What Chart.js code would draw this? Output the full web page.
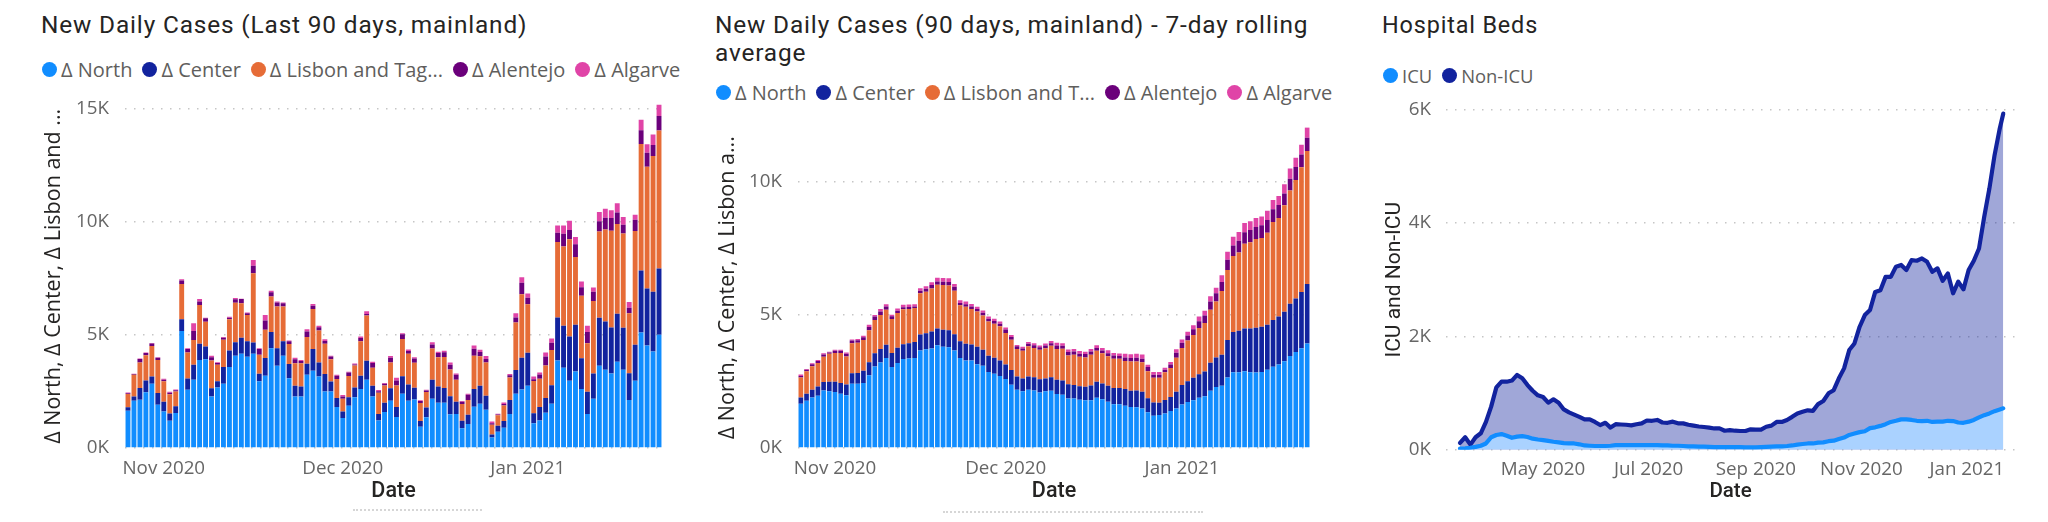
<!DOCTYPE html>
<html>
<head>
<meta charset="utf-8">
<title>Covid dashboard</title>
<script src="https://cdn.jsdelivr.net/npm/chart.js@4"></script>
<style>
  body { margin: 0; width: 2048px; height: 522px; background: #fff; overflow: hidden; position: relative; }
  canvas { position: absolute; top: 0; }
  .title { position: absolute; font: 400 24.4px Roboto, sans-serif; line-height: 28px; color: #252423; letter-spacing: 0.85px; }
  .legend { position: absolute; display: flex; font: 20px "Open Sans", sans-serif; color: #605E5C; white-space: nowrap; }
  .legend span { display: flex; align-items: center; margin-right: 10px; }
  .legend i { width: 15px; height: 15px; border-radius: 50%; margin-right: 4px; }
  .dots { position: absolute; height: 0; border-bottom: 2px dotted #d6d6d6; }
</style>
</head>
<body>
<div class="title" style="left:41px;top:11px">New Daily Cases (Last 90 days, mainland)</div>
<div class="title" style="left:715px;top:11px;width:620px">New Daily Cases (90 days, mainland) - 7-day rolling average</div>
<div class="title" style="left:1382px;top:11px;font-size:23.4px">Hospital Beds</div>
<div class="legend" id="legend1" style="left:42px;top:56px"></div>
<div class="legend" id="legend2" style="left:716px;top:79px"></div>
<div class="legend" id="legend3" style="left:1383px;top:63px;font-size:18.4px"></div>
<div class="dots" style="left:353px;top:509px;width:129px"></div>
<div class="dots" style="left:943px;top:511px;width:260px"></div>
<canvas id="dailyChart" style="left:41px" width="640" height="522"></canvas>
<canvas id="rollingChart" style="left:715px" width="625" height="522"></canvas>
<canvas id="bedsChart" style="left:1382px" width="648" height="522"></canvas>
<script>
const regionNames = ['Δ North', 'Δ Center', 'Δ Lisbon and Tagus', 'Δ Alentejo', 'Δ Algarve'];
const regionColors = ['#118DFF', '#12239E', '#E66C37', '#6B007B', '#E044A7'];
const legendNames1 = ['Δ North', 'Δ Center', 'Δ Lisbon and Tag...', 'Δ Alentejo', 'Δ Algarve'];
const legendNames2 = ['Δ North', 'Δ Center', 'Δ Lisbon and T...', 'Δ Alentejo', 'Δ Algarve'];
const monthLabels = { 6: 'Nov 2020', 36: 'Dec 2020', 67: 'Jan 2021' };
const dailyTicks = [0, 5000, 10000, 15000];
const rollingTicks = [0, 5000, 10000];
const bedTicks = [0, 2000, 4000, 6000];

// new daily cases, one value per day
const dailyNorth = [1650,2090,2140,2470,2840,1910,1620,1210,1550,5180,2580,3020,3900,3930,2280,2680,2840,3580,4080,4170,4040,4170,2950,3200,4420,3640,4080,3090,2280,2280,3240,3420,3170,2500,2500,1810,1330,1870,2250,2610,3020,2280,1220,1590,2090,1370,2400,2090,2150,940,1360,2180,2000,2000,1490,1500,870,1060,1830,1960,1690,470,720,900,1500,2400,2590,2750,1100,1220,1560,1960,3870,3550,2980,3390,2610,1500,2180,3640,3460,3300,3820,3460,2120,2980,5110,4540,4270,5010];
const dailyCenter = [150,190,520,520,320,520,430,320,300,520,500,660,710,560,370,270,740,740,600,710,690,500,340,780,710,780,650,630,470,440,490,960,620,780,440,400,290,380,430,590,840,470,290,410,550,440,780,720,520,250,430,840,720,660,800,550,340,410,780,800,620,130,270,290,620,1050,1410,1470,440,600,650,820,1910,1860,1960,2060,1360,990,1120,2120,2140,2030,2120,1860,1190,1590,2750,2520,2650,2930];
const dailyLisbon = [590,960,1130,1120,1360,1460,900,850,650,1560,1150,1100,1720,1100,1220,740,1210,1380,1750,1530,1160,3060,840,1250,1580,1840,1530,880,1000,1030,1180,1770,1410,1330,990,840,560,940,970,1520,2000,800,940,770,1150,960,1640,1360,1100,800,690,1380,1300,1370,1180,970,740,650,1470,1300,1470,430,460,690,1000,2110,2800,2140,1430,1250,1440,1560,3340,3510,4300,3000,2770,2150,3210,3820,4070,4290,3980,4180,2650,5040,5600,5390,6000,6110];
const dailyAlentejo = [30,30,150,90,100,100,70,70,60,150,150,400,150,150,150,70,90,70,150,180,70,340,250,410,180,180,150,130,180,100,250,150,150,130,120,150,100,150,50,150,70,210,60,70,210,220,220,120,190,90,70,180,180,210,220,220,100,240,310,190,160,70,30,70,100,220,520,290,70,180,400,320,410,560,410,570,380,500,410,460,520,560,500,380,250,490,600,620,490,650];
const dailyAlgarve = [40,20,20,30,30,30,40,40,30,60,40,340,120,30,60,40,30,40,60,20,40,250,40,250,70,40,30,30,70,40,100,70,60,70,30,40,70,40,40,60,120,60,60,40,70,120,40,70,60,30,30,100,60,60,90,60,30,40,150,100,130,70,40,60,60,190,240,190,130,90,180,190,320,370,410,320,250,270,180,410,400,340,410,350,250,220,470,370,470,500];

// 7-day rolling average
const rollingNorth = [1660,1780,1900,1960,2160,2130,2100,2040,1980,2410,2410,2440,2730,3060,3210,3380,3040,3190,3340,3360,3380,3660,3710,3740,3860,3800,3790,3660,3380,3290,3290,3150,3090,2860,2790,2710,2590,2380,2190,2130,2190,2160,2090,2130,2150,2030,2000,1860,1860,1810,1790,1790,1890,1830,1740,1640,1640,1590,1540,1530,1480,1340,1210,1240,1300,1390,1480,1630,1730,1790,1890,1940,2150,2290,2340,2650,2850,2850,2880,2850,2840,2860,2940,3050,3140,3260,3460,3610,3750,3930];
const rollingCenter = [240,260,290,350,320,360,390,400,410,400,410,460,490,500,510,500,530,580,560,580,600,600,600,640,630,640,630,610,630,630,600,650,600,610,600,580,550,550,500,480,500,500,490,480,510,530,540,540,510,510,510,560,600,590,600,610,610,630,610,630,630,530,500,460,500,530,630,740,780,850,880,930,1050,1110,1160,1410,1510,1560,1610,1640,1680,1700,1690,1760,1800,1860,1960,2010,2110,2230];
const rollingLisbon = [750,840,880,880,950,1050,1080,1130,1050,1130,1130,1160,1200,1250,1280,1310,1280,1300,1310,1280,1280,1550,1560,1610,1640,1680,1690,1640,1350,1390,1330,1330,1290,1280,1280,1280,1180,1140,1030,1040,1130,1100,1110,1140,1180,1160,1190,1080,1130,1110,1100,1150,1160,1140,1110,1100,1100,1050,1100,1090,1110,1010,930,940,1050,1090,1280,1390,1530,1610,1740,1830,1990,2100,2400,2630,2850,2940,3180,3240,3330,3330,3460,3680,3700,4000,4260,4450,4690,5000];
const rollingAlentejo = [60,60,80,80,80,50,80,80,100,100,100,100,130,130,130,130,100,90,80,80,60,100,110,130,130,130,130,150,90,90,100,90,100,110,100,100,130,100,100,90,100,100,100,100,100,130,110,130,130,110,130,130,110,100,110,130,110,130,130,140,130,160,110,110,90,130,190,190,190,210,250,280,310,310,340,380,400,440,440,460,450,480,480,480,490,440,440,490,480,500];
const rollingAlgarve = [50,30,30,40,50,30,40,40,50,40,50,60,80,60,90,80,60,80,90,90,80,90,100,110,140,140,140,100,100,100,90,90,90,80,90,80,80,80,50,60,60,80,60,80,80,100,100,90,90,100,90,90,100,100,110,90,90,140,140,150,160,90,110,110,80,90,130,130,140,150,180,180,200,210,250,300,330,330,340,330,340,330,340,350,340,350,380,350,360,380];

// hospital beds, read about every third day from 14 March 2020
const bedDays = [0,3,6,9,12,15,18,21,24,27,30,33,36,39,42,45,48,51,54,57,60,63,66,69,72,75,78,81,84,87,90,93,96,99,102,105,108,111,114,117,120,123,126,129,132,135,138,141,144,147,150,153,156,159,162,165,168,171,174,177,180,183,186,189,192,195,198,201,204,207,210,213,216,219,222,225,228,231,234,237,240,243,246,249,252,255,258,261,264,267,270,273,276,279,282,285,288,291,294,297,300,303,306,309,312,314];
const nonIcuBeds = [120,220,90,220,290,490,760,1100,1200,1200,1220,1320,1260,1140,1040,960,930,830,890,830,710,660,620,580,535,535,490,435,475,390,450,445,440,430,450,465,515,510,525,480,475,495,465,465,440,425,410,400,390,375,375,335,345,335,330,330,360,355,355,405,425,490,490,525,580,640,670,695,685,805,860,995,1050,1260,1435,1760,1875,2170,2375,2465,2785,2815,3050,3050,3230,3260,3170,3345,3335,3375,3315,3140,3200,2980,3110,2760,2965,2830,3170,3335,3550,4110,4610,5200,5670,5930];
const icuBeds = [20,25,35,50,70,110,220,260,275,245,210,230,240,225,195,180,170,155,140,130,115,110,110,95,75,70,65,65,65,70,80,80,80,80,80,80,80,80,80,75,75,70,70,65,60,60,55,55,50,45,45,45,45,45,45,40,40,40,45,50,55,60,60,65,75,90,100,110,110,125,130,150,160,190,215,260,285,310,325,380,395,420,450,490,510,535,535,525,510,505,510,490,495,495,510,505,480,475,495,525,570,610,640,680,710,730];
const bedTickDays = [48, 109, 171, 232, 293];
const bedTickLabels = ['May 2020', 'Jul 2020', 'Sep 2020', 'Nov 2020', 'Jan 2021'];

const dayLabels = dailyNorth.map((v, i) => 'day ' + (i + 1));
const tickFont = { family: '"Open Sans", sans-serif', size: 18.8 };
const gridDots = { color: '#c6c6c6', lineWidth: 1.5, drawTicks: false };

function fillLegend(id, names, colors) {
  document.getElementById(id).innerHTML = names
    .map((n, i) => `<span><i style="background:${colors[i]}"></i>${n}</span>`)
    .join('');
}
fillLegend('legend1', legendNames1, regionColors);
fillLegend('legend2', legendNames2, regionColors);
fillLegend('legend3', ['ICU', 'Non-ICU'], ['#118DFF', '#12239E']);

function kLabel(v) {
  return v / 1000 + 'K';
}

function stackedChart(id, series, opts) {
  new Chart(document.getElementById(id), {
    type: 'bar',
    data: {
      labels: dayLabels,
      datasets: series.map((values, i) => ({
        label: regionNames[i],
        data: values,
        backgroundColor: regionColors[i],
        barPercentage: 0.82,
        categoryPercentage: 1
      }))
    },
    options: {
      responsive: false,
      animation: false,
      layout: { padding: { top: opts.top, right: opts.right } },
      plugins: { legend: { display: false } },
      scales: {
        x: {
          stacked: true,
          grid: { display: false },
          border: { display: false },
          afterFit: (scale) => { scale.height = 74; },
          afterBuildTicks: (scale) => {
            scale.ticks = Object.keys(monthLabels).map((k) => ({ value: +k }));
          },
          ticks: {
            autoSkip: false,
            maxRotation: 0,
            padding: 1,
            color: '#666',
            font: tickFont,
            callback: (v) => monthLabels[v]
          },
          title: {
            display: true,
            text: 'Date',
            color: '#252423',
            font: { family: 'Roboto, sans-serif', size: 21.5, weight: '500' },
            padding: { top: 0, bottom: 17 }
          }
        },
        y: {
          stacked: true,
          min: 0,
          max: opts.max,
          grid: gridDots,
          border: { display: false, dash: [1.5, 7.5] },
          afterFit: (scale) => { scale.width = opts.yWidth; },
          afterBuildTicks: (scale) => {
            scale.ticks = opts.ticks.map((v) => ({ value: v }));
          },
          ticks: { padding: 16, color: '#666', font: tickFont, callback: kLabel },
          title: {
            display: true,
            text: opts.yTitle,
            color: '#252423',
            font: { family: '"Open Sans", sans-serif', size: 21.5 },
            padding: { top: 0, bottom: 0 }
          }
        }
      }
    }
  });
}

stackedChart('dailyChart', [dailyNorth, dailyCenter, dailyLisbon, dailyAlentejo, dailyAlgarve], {
  top: 104.6, right: 19, max: 15200, yWidth: 84, ticks: dailyTicks, yTitle: 'Δ North, Δ Center, Δ Lisbon and ...'
});
stackedChart('rollingChart', [rollingNorth, rollingCenter, rollingLisbon, rollingAlentejo, rollingAlgarve], {
  top: 127.3, right: 30, max: 12050, yWidth: 83, ticks: rollingTicks, yTitle: 'Δ North, Δ Center, Δ Lisbon a...'
});

new Chart(document.getElementById('bedsChart'), {
  type: 'line',
  data: {
    datasets: [
      {
        label: 'ICU',
        data: icuBeds.map((v, i) => ({ x: bedDays[i], y: v })),
        borderColor: '#118DFF',
        backgroundColor: '#AAD2FF',
        fill: 'origin'
      },
      {
        label: 'Non-ICU',
        data: nonIcuBeds.map((v, i) => ({ x: bedDays[i], y: v })),
        borderColor: '#12239E',
        backgroundColor: 'rgba(18, 35, 158, 0.4)',
        fill: 'origin'
      }
    ]
  },
  options: {
    responsive: false,
    animation: false,
    layout: { padding: { top: 109.7, right: 15 } },
    elements: { point: { radius: 0 }, line: { borderWidth: 4.2, tension: 0, borderCapStyle: 'round', borderJoinStyle: 'round' } },
    plugins: { legend: { display: false } },
    scales: {
      x: {
        type: 'linear',
        min: -8.1,
        max: 320.8,
        grid: { display: false },
        border: { display: false },
        afterFit: (scale) => { scale.height = 72.3; },
        afterBuildTicks: (scale) => {
          scale.ticks = bedTickDays.map((d) => ({ value: d }));
        },
        ticks: {
          autoSkip: false,
          maxRotation: 0,
          padding: 1,
          color: '#666',
          font: tickFont,
          callback: (v) => bedTickLabels[bedTickDays.indexOf(v)]
        },
        title: {
          display: true,
          text: 'Date',
          color: '#252423',
          font: { family: 'Roboto, sans-serif', size: 20.5, weight: '500' },
          padding: { top: 0, bottom: 18 }
        }
      },
      y: {
        min: 0,
        max: 6000,
        grid: gridDots,
        border: { display: false, dash: [1.5, 7.5] },
        afterFit: (scale) => { scale.width = 64; },
        afterBuildTicks: (scale) => {
          scale.ticks = bedTicks.map((v) => ({ value: v }));
        },
        ticks: { padding: 15, color: '#666', font: tickFont, callback: kLabel },
        title: {
          display: true,
          text: 'ICU and Non-ICU',
          color: '#252423',
          font: { family: 'Roboto, sans-serif', size: 21 },
          padding: { top: 0, bottom: 0 }
        }
      }
    }
  }
});
</script>
</body>
</html>
